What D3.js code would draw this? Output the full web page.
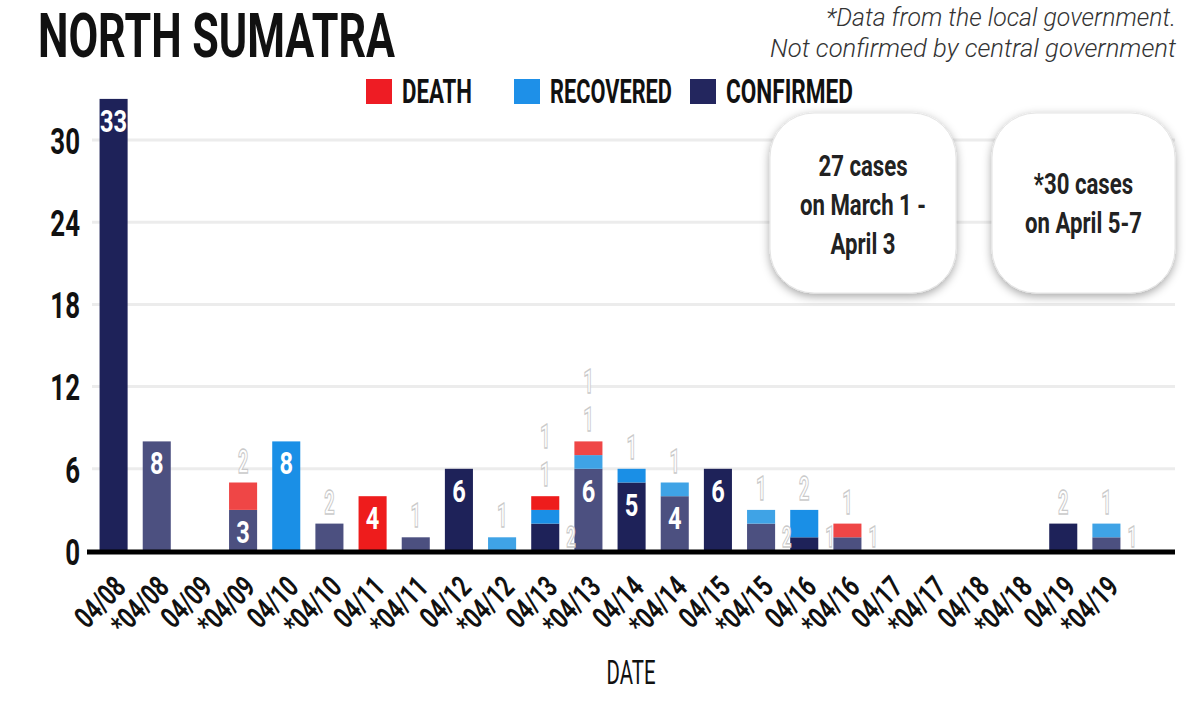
<!DOCTYPE html>
<html>
<head>
<meta charset="utf-8">
<script src="https://cdn.jsdelivr.net/npm/d3@7"></script>
<style>
  body { margin: 0; background: #fff; }
  svg { display: block; }
</style>
</head>
<body>
<div id="chart"></div>
<script>
// data (* = data from the local government)
const dates = ["04/08","*04/08","04/09","*04/09","04/10","*04/10","04/11","*04/11",
  "04/12","*04/12","04/13","*04/13","04/14","*04/14","04/15","*04/15",
  "04/16","*04/16","04/17","*04/17","04/18","*04/18","04/19","*04/19"];
const confirmed = [33,8,0,3,0,2,0,1,6,0,2,6,5,4,6,2,1,1,0,0,0,0,2,1];
const recovered = [0,0,0,0,8,0,0,0,0,1,1,1,1,1,0,1,2,0,0,0,0,0,0,1];
const deaths    = [0,0,0,2,0,0,4,0,0,0,1,1,0,0,0,0,0,1,0,0,0,0,0,0];
const yTicks = [0,6,12,18,24,30];
const legendLabels = ["DEATH","RECOVERED","CONFIRMED"];
const sourceLines = ["*Data from the local government.","Not confirmed by central government"];
const note1 = ["27 cases","on March 1 -","April 3"];
const note2 = ["*30 cases","on April 5-7"];

const W = 1191, H = 704;
const FONT = "Roboto, 'Liberation Sans', sans-serif";

// official / local shades
const colours = {
  confirmed: ["#1e2259", "#4c5080"],
  recovered: ["#1a8fe6", "#3fa3e6"],
  death:     ["#ee1c1c", "#ef4646"]
};
const legendColours = ["#ee1c24", "#1e90e8", "#23265e"];

const svg = d3.select("#chart").append("svg")
    .attr("width", W)
    .attr("height", H)
    .style("font-family", FONT);

const defs = svg.append("defs");
const shadow = defs.append("filter").attr("id", "soft")
    .attr("x", "-25%").attr("y", "-25%").attr("width", "150%").attr("height", "160%");
shadow.append("feDropShadow")
    .attr("dx", 0).attr("dy", 3).attr("stdDeviation", 5)
    .attr("flood-color", "#000").attr("flood-opacity", 0.35);

// squeezed text helper (the original uses a condensed face)
function cond(parent, str, x, y, size, sx, weight) {
  return parent.append("text")
      .attr("transform", `translate(${x},${y}) scale(${sx},1)`)
      .attr("font-size", size)
      .attr("font-weight", weight || 700)
      .text(str);
}

/* scales */
const x = d3.scaleBand()
    .domain(dates)
    .range([92, 1128])
    .paddingInner(0.35)
    .paddingOuter(0.175);

const y = d3.scaleLinear()
    .domain([0, 30])
    .range([551, 140]);

/* title + source note */
svg.append("text")
    .attr("x", 38).attr("y", 57)
    .attr("font-size", 62).attr("font-weight", 700)
    .attr("textLength", 357).attr("lengthAdjust", "spacingAndGlyphs")
    .attr("fill", "#111")
    .text("NORTH SUMATRA");

const srcLen = [350, 406];
svg.selectAll(".src")
  .data(sourceLines)
  .join("text")
    .attr("class", "src")
    .attr("x", 1176)
    .attr("y", (d, i) => 26 + i * 31)
    .attr("text-anchor", "end")
    .attr("font-size", 26)
    .attr("font-style", "italic")
    .attr("font-weight", 300)
    .attr("fill", "#333")
    .attr("textLength", (d, i) => srcLen[i])
    .attr("lengthAdjust", "spacingAndGlyphs")
    .text(d => d);

/* legend */
const legendX = [366, 514, 690];
const legendLen = [70, 122, 127];
const legend = svg.append("g");
legendLabels.forEach((lab, i) => {
  legend.append("rect")
      .attr("x", legendX[i]).attr("y", 79)
      .attr("width", 26).attr("height", 25)
      .attr("fill", legendColours[i]);
  legend.append("text")
      .attr("x", legendX[i] + 36).attr("y", 103)
      .attr("font-size", 33).attr("font-weight", 700)
      .attr("textLength", legendLen[i]).attr("lengthAdjust", "spacingAndGlyphs")
      .attr("fill", "#111")
      .text(lab);
});

/* gridlines */
svg.append("g")
  .selectAll("line")
  .data(yTicks.filter(d => d > 0))
  .join("line")
    .attr("x1", 92).attr("x2", 1175)
    .attr("y1", d => y(d)).attr("y2", d => y(d))
    .attr("stroke", "#ececec")
    .attr("stroke-width", 3);

/* note boxes */
const boxes = [
  { x: 770, w: 186, lines: note1, y0: 176 },
  { x: 992, w: 183, lines: note2, y0: 194 }
];
boxes.forEach(b => {
  svg.append("rect")
      .attr("x", b.x).attr("y", 113)
      .attr("width", b.w).attr("height", 180)
      .attr("rx", 44)
      .attr("fill", "#fff")
      .attr("stroke", "#e4e4e4")
      .attr("filter", "url(#soft)");
  b.lines.forEach((ln, i) => {
    cond(svg, ln, b.x + b.w / 2, b.y0 + i * 39, 30, 0.74, 700)
        .attr("text-anchor", "middle")
        .attr("fill", "#222");
  });
});

/* stacked bars */
const rows = dates.map((d, i) => ({
  date: d, local: d.startsWith("*"),
  confirmed: confirmed[i], recovered: recovered[i], death: deaths[i]
}));
const keys = ["confirmed", "recovered", "death"];
const series = d3.stack().keys(keys)(rows);

const bars = svg.append("g");
series.forEach(s => {
  bars.selectAll(".seg-" + s.key)
    .data(s.filter(d => d[1] > d[0]))
    .join("rect")
      .attr("class", "seg-" + s.key)
      .attr("x", d => x(d.data.date))
      .attr("width", x.bandwidth())
      .attr("y", d => y(d[1]))
      .attr("height", d => y(d[0]) - y(d[1]))
      .attr("fill", d => colours[s.key][d.data.local ? 1 : 0]);
});

/* value labels */
const labels = svg.append("g");
rows.forEach(r => {
  const cx = x(r.date) + x.bandwidth() / 2;
  const total = r.confirmed + r.recovered + r.death;
  if (total === 0) return;
  let base = 0, above = 0;
  keys.forEach(k => {
    const v = r[k];
    if (v === 0) return;
    const top = y(base + v);
    if (v >= 3) {
      cond(labels, v, cx, top + 33, 32, 0.74, 700)
          .attr("text-anchor", "middle")
          .attr("fill", "#fff");
    } else if (k === "confirmed" && total > v) {
      cond(labels, v, x(r.date) + x.bandwidth() + 7, y(0) - 4, 30, 0.55, 700)
          .attr("fill", "#fff")
          .attr("stroke", "#cacaca").attr("stroke-width", 1.4);
    } else {
      cond(labels, v, cx, y(total) - 10 - above * 38, 33, 0.55, 700)
          .attr("text-anchor", "middle")
          .attr("fill", "#fff")
          .attr("stroke", "#cacaca").attr("stroke-width", 1.4);
      above++;
    }
    base += v;
  });
});

/* y axis */
const yAxis = svg.append("g")
    .attr("transform", "translate(87,0)")
    .call(d3.axisLeft(y).tickValues(yTicks).tickSize(0));
yAxis.select(".domain").remove();
yAxis.selectAll("text")
    .attr("x", 0)
    .attr("dy", "0.36em")
    .attr("transform", "translate(-7,0) scale(0.7,1)")
    .attr("font-family", FONT)
    .attr("font-size", 37)
    .attr("font-weight", 700)
    .attr("fill", "#111");

/* x axis */
const xAxis = svg.append("g")
    .attr("transform", "translate(0,551)")
    .call(d3.axisBottom(x).tickSize(0));
xAxis.select(".domain").remove();
xAxis.selectAll("text")
    .attr("x", 0).attr("y", 0).attr("dy", 0)
    .attr("text-anchor", "end")
    .attr("transform", "translate(14,38) rotate(-45) scale(0.72,1)")
    .attr("font-family", FONT)
    .attr("font-size", 30)
    .attr("font-weight", 700)
    .attr("fill", "#111");

svg.append("line")
    .attr("x1", 87).attr("x2", 1175)
    .attr("y1", 552).attr("y2", 552)
    .attr("stroke", "#000")
    .attr("stroke-width", 5);

cond(svg, "DATE", 631, 684, 34, 0.6, 400)
    .attr("text-anchor", "middle")
    .attr("fill", "#111");
</script>
</body>
</html>
